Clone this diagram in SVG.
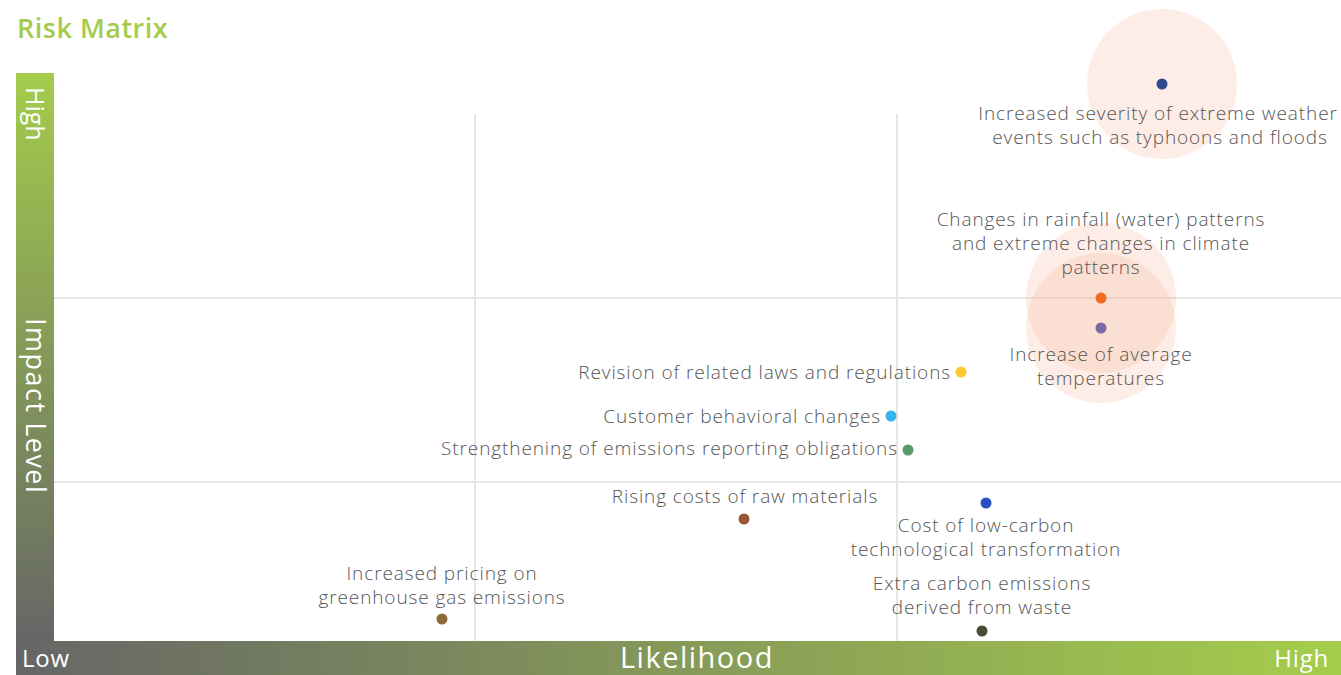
<svg xmlns="http://www.w3.org/2000/svg" width="1341" height="675" viewBox="0 0 1341 675">
<defs>
<linearGradient id="gv" x1="0" y1="0" x2="0" y2="1">
<stop offset="0" stop-color="#a3cc4c"/>
<stop offset="1" stop-color="#666666"/>
</linearGradient>
<linearGradient id="gh" x1="0" y1="0" x2="1" y2="0">
<stop offset="0" stop-color="#666666"/>
<stop offset="1" stop-color="#a5cd4b"/>
</linearGradient>
<style>
.lbl{font-family:"Open Sans","Liberation Sans",sans-serif;font-size:19px;letter-spacing:0.9px;fill:#555555;font-weight:300}
.c{text-anchor:middle}
.e{text-anchor:end}
.ax{font-family:"Open Sans","Liberation Sans",sans-serif;fill:#ffffff}
.grid{stroke:#e6e6e6;stroke-width:2;fill:none}
.halo{fill:#f7b89a;fill-opacity:0.25}
</style>
</defs>
<rect width="1341" height="675" fill="#ffffff"/>
<text x="17" y="38" font-family="'Open Sans','Liberation Sans',sans-serif" font-size="27" font-weight="600" letter-spacing="0.5" fill="#a3cc4c">Risk Matrix</text>
<g id="axes">
<rect x="16" y="73" width="38" height="568" fill="url(#gv)"/>
<rect x="16" y="641" width="1325" height="34" fill="url(#gh)"/>
<text class="ax" font-size="25" transform="translate(26,87) rotate(90)">High</text>
<text class="ax" font-size="27" letter-spacing="1.5" transform="translate(26,318) rotate(90)">Impact Level</text>
<text class="ax" x="22" y="667" font-size="24" letter-spacing="0.8">Low</text>
<text class="ax" x="697" y="668" font-size="29" letter-spacing="1.5" text-anchor="middle">Likelihood</text>
<text class="ax" x="1329" y="667" font-size="24" letter-spacing="0.8" text-anchor="end">High</text>
</g>
<g id="grid">
<line class="grid" x1="54" y1="298" x2="1341" y2="298"/>
<line class="grid" x1="54" y1="482" x2="1341" y2="482"/>
<line class="grid" x1="475" y1="114" x2="475" y2="641"/>
<line class="grid" x1="897" y1="114" x2="897" y2="641"/>
</g>
<g id="halos">
<circle class="halo" cx="1162" cy="84" r="75"/>
<circle class="halo" cx="1101" cy="298" r="75"/>
<circle class="halo" cx="1101" cy="328" r="75"/>
</g>
<g id="n-weather">
<circle cx="1162" cy="84" r="5.5" fill="#2e4a8c"/>
<text class="lbl c" x="1158" y="120">Increased severity of extreme weather</text>
<text class="lbl c" x="1160" y="144">events such as typhoons and floods</text>
</g>
<g id="n-rainfall">
<circle cx="1101" cy="298" r="5.5" fill="#f26b22"/>
<text class="lbl c" x="1101" y="226">Changes in rainfall (water) patterns</text>
<text class="lbl c" x="1101" y="250">and extreme changes in climate</text>
<text class="lbl c" x="1101" y="274">patterns</text>
</g>
<g id="n-temp">
<circle cx="1101" cy="328" r="5.5" fill="#7b68a6"/>
<text class="lbl c" x="1101" y="361">Increase of average</text>
<text class="lbl c" x="1101" y="385">temperatures</text>
</g>
<g id="n-laws">
<circle cx="961" cy="372" r="5.5" fill="#fcc832"/>
<text class="lbl e" x="951" y="379">Revision of related laws and regulations</text>
</g>
<g id="n-customer">
<circle cx="891" cy="416" r="5.5" fill="#33b5ea"/>
<text class="lbl e" x="881" y="423">Customer behavioral changes</text>
</g>
<g id="n-reporting">
<circle cx="908" cy="450" r="5.5" fill="#5a9a6a"/>
<text class="lbl e" x="898" y="455">Strengthening of emissions reporting obligations</text>
</g>
<g id="n-lowcarbon">
<circle cx="986" cy="503" r="5.5" fill="#2a4fbf"/>
<text class="lbl c" x="986" y="532">Cost of low-carbon</text>
<text class="lbl c" x="986" y="556">technological transformation</text>
</g>
<g id="n-raw">
<circle cx="744" cy="519" r="5.5" fill="#9b5535"/>
<text class="lbl c" x="745" y="503">Rising costs of raw materials</text>
</g>
<g id="n-waste">
<circle cx="982" cy="631" r="5.5" fill="#4a4a35"/>
<text class="lbl c" x="982" y="590">Extra carbon emissions</text>
<text class="lbl c" x="982" y="614">derived from waste</text>
</g>
<g id="n-pricing">
<circle cx="442" cy="619" r="5.5" fill="#8c6a3a"/>
<text class="lbl c" x="442" y="580">Increased pricing on</text>
<text class="lbl c" x="442" y="604">greenhouse gas emissions</text>
</g>
</svg>
